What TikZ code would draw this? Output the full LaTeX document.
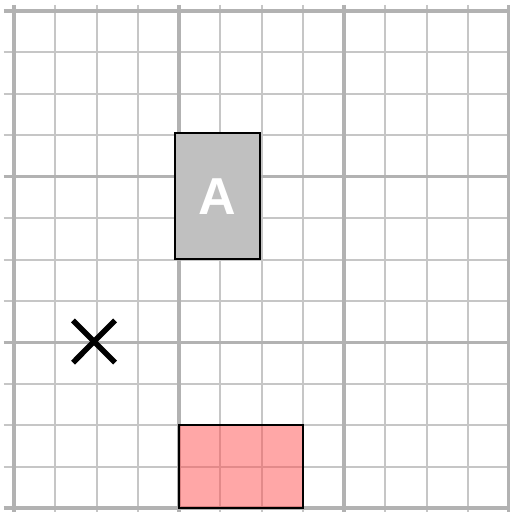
\documentclass[tikz,border=0pt]{standalone}
\usepackage{fontspec}
\setsansfont{Liberation Sans}
\usetikzlibrary{positioning}

\definecolor{gridthin}{RGB}{198,198,198}
\definecolor{gridthick}{RGB}{178,178,178}
\definecolor{boxgray}{RGB}{192,192,192}
\definecolor{boxpink}{RGB}{255,80,80}

\tikzset{
    minorline/.style={draw=gridthin, line width=2pt},
    majorline/.style={draw=gridthick, line width=3.5pt},
    blockbox/.style={draw=black, line width=1.8pt, fill=boxgray, text=white,
        font=\sffamily\bfseries\fontsize{52}{52}\selectfont, inner sep=0pt},
    zonebox/.style={draw=black, line width=1.8pt, fill=boxpink, fill opacity=0.5, inner sep=0pt}
}

\begin{document}
\begin{tikzpicture}
    \useasboundingbox (0,0) rectangle (510pt,-512pt);
    \begin{scope}[shift={(14pt,-11pt)}, x=41.25pt, y=-41.42pt]
        % Grid
        \foreach \i in {1,2,3,5,6,7,9,10,11} {
            \draw[minorline] (\i,-0.15) -- (\i,12.2);
            \draw[minorline] (-0.25,\i) -- (12.1,\i);
        }
        \foreach \i in {0,4,8,12} {
            \draw[majorline] (\i,-0.15) -- (\i,12.2);
            \draw[majorline] (-0.25,\i) -- (12.1,\i);
        }

        % Blocks
        \node[blockbox, minimum width=85pt, minimum height=126pt] (blockA) at (4.93,4.47) {A};
        \node[zonebox, minimum width=123.75pt, minimum height=82.84pt] (zone) at (5.5,11) {};

        % Cross mark
        \coordinate (cross) at (1.94,7.98);
        \draw[line width=5.5pt] ([shift={(-0.51,-0.51)}]cross) -- ([shift={(0.51,0.51)}]cross);
        \draw[line width=5.5pt] ([shift={(-0.51,0.51)}]cross) -- ([shift={(0.51,-0.51)}]cross);
    \end{scope}
\end{tikzpicture}
\end{document}
